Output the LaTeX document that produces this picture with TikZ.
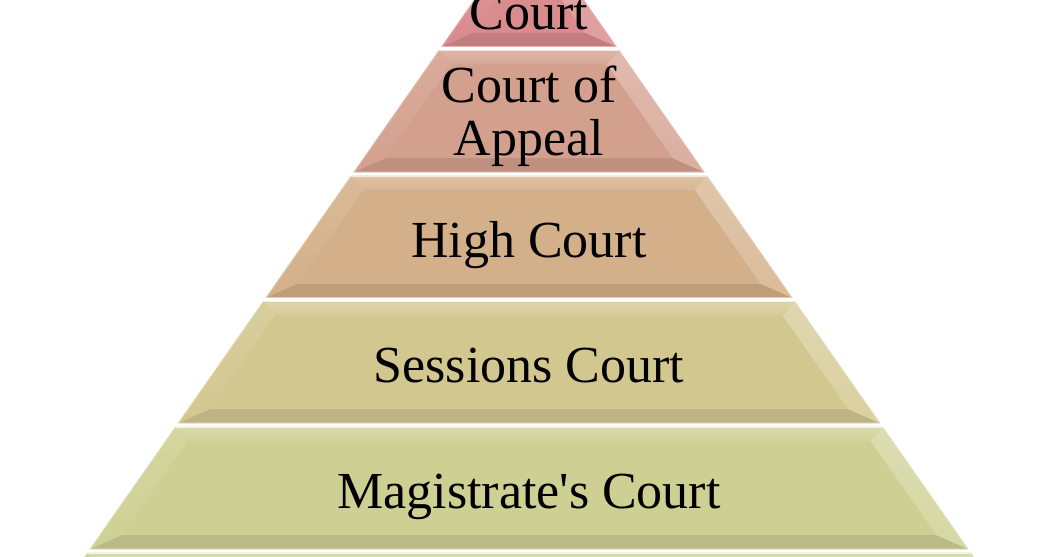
\documentclass[tikz,border=0pt]{standalone}
\usepackage{fontspec}
\setmainfont{Liberation Serif}

\definecolor{tierA}{HTML}{D98B8E}
\definecolor{tierB}{HTML}{D4A08E}
\definecolor{tierC}{HTML}{D4B08A}
\definecolor{tierD}{HTML}{D3C790}
\definecolor{tierE}{HTML}{CED093}
\definecolor{tierF}{HTML}{C9D291}

\tikzset{
  tierlabel/.style={font=\fontsize{52}{53}\selectfont, align=center,
    text=black, inner sep=0pt},
}

\begin{document}
\begin{tikzpicture}[x=1pt, y=-1pt]
  \useasboundingbox (0,0) rectangle (1061,557);
  \clip (0,0) rectangle (1061,557);
  % one band of the pyramid per entry: top, bottom, colour
  \foreach \yt/\yb/\col in {-78/46.5/tierA, 50.5/172/tierB,
      176/297.5/tierC, 301.5/423/tierD, 427/549/tierE, 553/675/tierF} {
    \pgfmathsetmacro\lt{529-0.7*(\yt+78)}
    \pgfmathsetmacro\rt{529+0.7*(\yt+78)}
    \pgfmathsetmacro\lb{529-0.7*(\yb+78)}
    \pgfmathsetmacro\rb{529+0.7*(\yb+78)}
    \pgfmathsetmacro\lti{529-0.7*(\yt+92)+22}
    \pgfmathsetmacro\rti{529+0.7*(\yt+92)-22}
    \pgfmathsetmacro\lbi{529-0.7*(\yb+64)+22}
    \pgfmathsetmacro\rbi{529+0.7*(\yb+64)-22}
    \coordinate (tl) at (\lt,\yt);
    \coordinate (tr) at (\rt,\yt);
    \coordinate (bl) at (\lb,\yb);
    \coordinate (br) at (\rb,\yb);
    \coordinate (itl) at (\lti,\yt+14);
    \coordinate (itr) at (\rti,\yt+14);
    \coordinate (ibl) at (\lbi,\yb-14);
    \coordinate (ibr) at (\rbi,\yb-14);
    \fill[\col] (tl) -- (tr) -- (br) -- (bl) -- cycle;
    % bevel facets
    \shade[top color=\col!78!white, bottom color=\col!92!white]
      (tl) -- (tr) -- (itr) -- (itl) -- cycle;
    \fill[\col!90!black] (bl) -- (br) -- (ibr) -- (ibl) -- cycle;
    \shade[top color=\col!88!white, bottom color=\col]
      (tl) -- (itl) -- (ibl) -- (bl) -- cycle;
    \shade[top color=\col!72!white, bottom color=\col!85!white]
      (tr) -- (itr) -- (ibr) -- (br) -- cycle;
    \fill[\col] (itl) -- (itr) -- (ibr) -- (ibl) -- cycle;
    \draw[\col!65!white, line width=0.8pt] (tl) -- (tr) -- (br) -- (bl) -- cycle;
    \draw[white!75!\col, line width=1.6pt] (tl) -- (tr);
  }
  \node[tierlabel, anchor=base] (federal) at (529,29) {Court};
  \node[tierlabel] (appeal) at (529,116) {Court of\\Appeal};
  \node[tierlabel, anchor=base] (high) at (529,257) {High Court};
  \node[tierlabel, anchor=base] (sessions) at (529,382) {Sessions Court};
  \node[tierlabel, anchor=base] (magistrate) at (529,508)
    {Magistrate\textquotesingle s Court};
\end{tikzpicture}
\end{document}
